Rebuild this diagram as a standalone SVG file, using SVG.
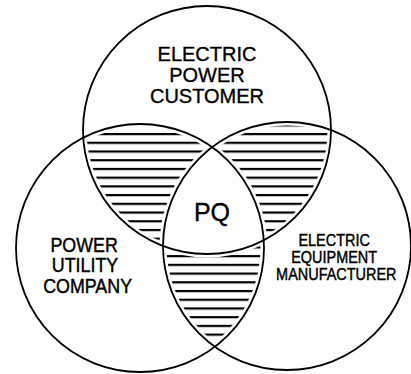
<svg xmlns="http://www.w3.org/2000/svg" width="411" height="374" viewBox="0 0 411 374">
  <style>
    .ring { fill: none; stroke: #000; stroke-width: 1.8; }
    .gap { fill: none; stroke: #fff; stroke-width: 7; }
    .hatch { fill: url(#hatch); }
    .lbl { font-family: "Liberation Sans", Arial, Helvetica, sans-serif; fill: #000; stroke: #000; stroke-width: 0.35; text-anchor: middle; }
    .top { font-size: 20px; }
    .left { font-size: 20.5px; stroke-width: 0.45; }
    .right { font-size: 17px; stroke-width: 0.45; }
    .pq { font-size: 25px; }
  </style>
  <defs>
    <pattern id="hatch" x="0" y="133" width="20" height="8.72" patternUnits="userSpaceOnUse">
      <rect x="0" y="0" width="20" height="2.2" fill="#000"/>
    </pattern>
  </defs>
  <rect width="411" height="374" fill="#fff"/>

  <g id="overlaps">
    <path id="overlap-customer-utility" class="hatch" d="M 83.24 137.75 A 124 124 0 0 1 212.14 147.15 A 124 124 0 0 0 163.0 245.93 A 124 124 0 0 1 83.24 137.75 Z"/>
    <path id="overlap-customer-manufacturer" class="hatch" d="M 212.14 147.15 A 124 124 0 0 1 331.0 130.07 A 124 124 0 0 1 263.76 240.25 A 124 124 0 0 0 212.14 147.15 Z"/>
    <path id="overlap-utility-manufacturer" class="hatch" d="M 163.0 245.93 A 124 124 0 0 0 263.76 240.25 A 124 124 0 0 1 214.86 346.85 A 124 124 0 0 1 163.0 245.93 Z"/>
  </g>

  <g id="gaps">
    <circle class="gap" cx="207" cy="130" r="124"/>
    <circle class="gap" cx="140" cy="248" r="124"/>
    <circle class="gap" cx="287" cy="246" r="124"/>
  </g>

  <g id="customer">
    <circle class="ring" cx="207" cy="130" r="124"/>
    <text class="lbl top"><tspan x="207" y="61">ELECTRIC</tspan><tspan x="207" y="82">POWER</tspan><tspan x="207" y="103">CUSTOMER</tspan></text>
  </g>

  <g id="utility">
    <circle class="ring" cx="140" cy="248" r="124"/>
    <text class="lbl left" transform="translate(85,0) scale(0.87,1)"><tspan x="-1" y="252">POWER</tspan><tspan x="0" y="272.5">UTILITY</tspan><tspan x="3" y="293">COMPANY</tspan></text>
  </g>

  <g id="manufacturer">
    <circle class="ring" cx="287" cy="246" r="124"/>
    <text class="lbl right" transform="translate(335,0) scale(0.85,1)"><tspan x="-1" y="246">ELECTRIC</tspan><tspan x="-1" y="263">EQUIPMENT</tspan><tspan x="1.5" y="280">MANUFACTURER</tspan></text>
  </g>

  <g id="pq">
    <text class="lbl pq" x="212" y="221">PQ</text>
  </g>
</svg>
